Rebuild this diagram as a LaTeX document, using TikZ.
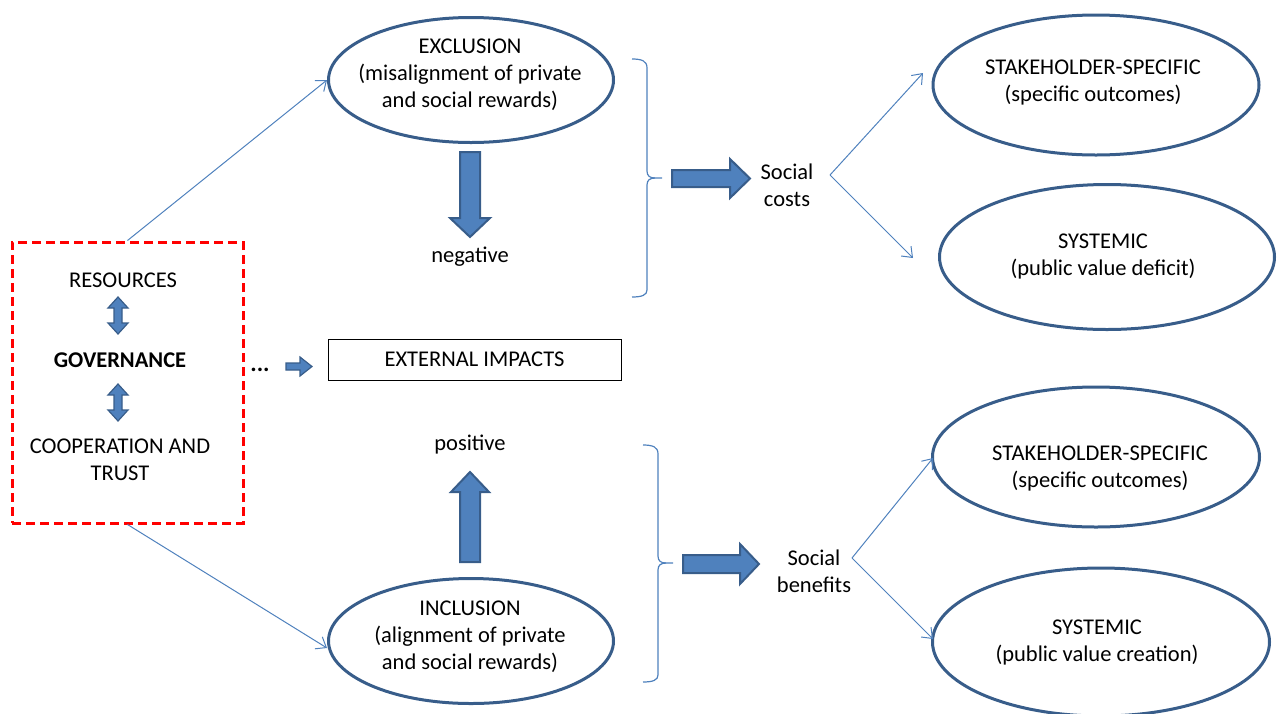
\documentclass[tikz,border=0pt]{standalone}
\usepackage{fontspec}
\setmainfont{Carlito}
\usetikzlibrary{arrows.meta,shapes.geometric}
\definecolor{thinblue}{HTML}{4F81BD}
\definecolor{darkblue}{HTML}{385D8A}
\definecolor{fillblue}{HTML}{4F81BD}
\begin{document}
\begin{tikzpicture}[x=1pt,y=-1pt,
 every node/.style={font=\fontsize{22.5}{27}\selectfont, text=black},
 oval/.style={draw=darkblue, line width=3pt, ellipse, inner sep=0pt},
 txt/.style={align=center, inner sep=0pt},
 thin/.style={draw=thinblue, line width=1pt, -{Straight Barb[length=9pt,width=14pt]}},
 blockarr/.style={fill=fillblue, draw=darkblue, line width=2pt, line join=miter},
 smallarr/.style={fill=fillblue, draw=darkblue, line width=1.2pt, line join=miter},
 brace/.style={draw=thinblue, line width=1.2pt},
]
\useasboundingbox (0,0) rectangle (1277,713);

% left dashed box
\node[draw=red, line width=3pt, dash pattern=on 9pt off 5pt, minimum width=231pt, minimum height=281pt, inner sep=0pt] (src) at (127.5,382.5) {};
\node[txt] (res) at (123,280) {RESOURCES};
\node[txt, font=\fontsize{22.5}{27}\selectfont\bfseries] (gov) at (120,360) {GOVERNANCE};
\node[txt] (coop) at (120,460) {COOPERATION AND\\TRUST};
\draw[smallarr] (118,297) -- (128,308) -- (122,308) -- (122,323) -- (128,323) -- (118,334) -- (108,323) -- (114,323) -- (114,308) -- (108,308) -- cycle;
\draw[smallarr] (118,384) -- (128,395) -- (122,395) -- (122,410) -- (128,410) -- (118,421) -- (108,410) -- (114,410) -- (114,395) -- (108,395) -- cycle;

% external impacts
\node[anchor=base, inner sep=0pt, font=\fontsize{24}{27}\selectfont\bfseries] (dots) at (260,371) {...};
\draw[smallarr] (286,363) -- (300,363) -- (300,357) -- (312,366.5) -- (300,376) -- (300,370) -- (286,370) -- cycle;
\node[draw, line width=1pt, minimum width=293pt, minimum height=41pt, inner sep=0pt] (ext) at (474.5,359.5) {EXTERNAL IMPACTS};

% middle ellipses
\node[oval, minimum width=285pt, minimum height=125pt] (excl) at (471,80) {};
\node[txt] (exclt) at (470,75) {EXCLUSION\\(misalignment of private\\and social rewards)};
\node[oval, minimum width=285pt, minimum height=125pt] (incl) at (471,641) {};
\node[txt] (inclt) at (470,637) {INCLUSION\\(alignment of private\\and social rewards)};
\node[txt] (neg) at (470,257) {negative};
\node[txt] (pos) at (470,445) {positive};
\draw[blockarr] (460,152) -- (480,152) -- (480,218) -- (490,218) -- (470,237) -- (450,218) -- (460,218) -- cycle;
\draw[blockarr] (460,562) -- (480,562) -- (480,492) -- (489,492) -- (470,472) -- (451,492) -- (460,492) -- cycle;

\draw[thin] (src.north) -- (excl.west);
\draw[thin] (src.south) -- ([yshift=-7pt]incl.west);

% braces
\draw[brace] (632,59) .. controls (642,59) and (647,61) .. (647,68) -- (647,171) .. controls (647,176) and (650,178) .. (655,178) -- (662,178);
\draw[brace] (655,178) .. controls (650,178) and (647,180) .. (647,185) -- (647,290) .. controls (647,295) and (642,297) .. (632,297);
\draw[brace] (643,445) .. controls (653,445) and (658,447) .. (658,454) -- (658,556) .. controls (658,561) and (661,563) .. (666,563) -- (673,563);
\draw[brace] (666,563) .. controls (661,563) and (658,565) .. (658,570) -- (658,675) .. controls (658,680) and (653,682) .. (643,682);

% right block arrows
\draw[blockarr] (672,170) -- (730,170) -- (730,159) -- (750,178.5) -- (730,198) -- (730,187) -- (672,187) -- cycle;
\draw[blockarr] (683,555) -- (740,555) -- (740,544) -- (759,564) -- (740,584) -- (740,573) -- (683,573) -- cycle;

\node[txt] (costs) at (787,185) {Social\\costs};
\node[txt] (ben) at (814,571) {Social\\benefits};

% right ellipses
\node[oval, minimum width=326pt, minimum height=140pt] (st1) at (1096,85) {};
\node[txt] (st1t) at (1093,83) {STAKEHOLDER-SPECIFIC\\(specific outcomes)};
\node[oval, minimum width=335pt, minimum height=145pt] (sy1) at (1107,257) {};
\node[txt] (sy1t) at (1103,257) {SYSTEMIC\\(public value deficit)};
\node[oval, minimum width=327pt, minimum height=140pt] (st2) at (1096,457) {};
\node[txt] (st2t) at (1100,469) {STAKEHOLDER-SPECIFIC\\(specific outcomes)};
\node[oval, minimum width=337pt, minimum height=148pt] (sy2) at (1101,642) {};
\node[txt] (sy2t) at (1097,642) {SYSTEMIC\\(public value creation)};

\coordinate (vc) at (830,175);
\coordinate (vb) at (852,558);
\coordinate (t1) at (923,73);
\coordinate (t2) at (913,258);
\coordinate (t3) at (933,458);
\coordinate (t4) at (933,639);
\draw[thin] (vc) -- (t1);
\draw[thin] (vc) -- (t2);
\draw[thin] (vb) -- (t3);
\draw[thin] (vb) -- (t4);
\end{tikzpicture}
\end{document}
